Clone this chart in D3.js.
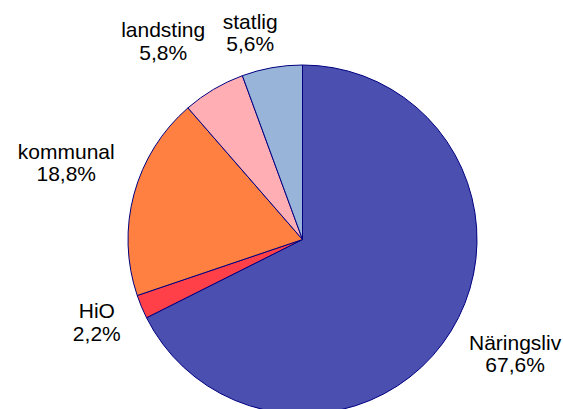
<!DOCTYPE html>
<html><head><meta charset="utf-8">
<script src="https://cdn.jsdelivr.net/npm/d3@7"></script>
<style>html,body{margin:0;padding:0;background:#fff;}svg{display:block;}</style>
</head><body>
<svg id="c" width="563" height="409"></svg>
<script>
const categories = ["Näringsliv", "HiO", "kommunal", "landsting", "statlig"];
const values = [67.6, 2.2, 18.8, 5.8, 5.6];
const valueLabels = ["67,6%", "2,2%", "18,8%", "5,8%", "5,6%"];
const colors = ["#4B4FB0", "#FF4048", "#FF8040", "#FFAFB4", "#98B4D8"];
// label layout: small angular nudges (degrees) emulating the original's collision avoidance
const labelNudgeDeg = [-1.9, -0.9, 1.3, -5.5, -4.6];

const svg = d3.select("#c");
const cx = 302.5, cy = 239.5, r = 174.5;
const g = svg.append("g").attr("transform", `translate(${cx},${cy})`);
const pie = d3.pie().sort(null).value(d => d);
const arcs = pie(values);
const arc = d3.arc().innerRadius(0).outerRadius(r);
g.selectAll("path").data(arcs).join("path")
  .attr("d", arc)
  .attr("fill", (d, i) => colors[i])
  .attr("stroke", "#000080")
  .attr("stroke-width", 1)
  .attr("stroke-linejoin", "round");

const fs = 21, lh = 22.5, gap = 19, minTop = 17.4;
const lab = svg.append("g").attr("font-family", "'Liberation Sans', Arial, sans-serif")
  .attr("font-size", fs).attr("fill", "#000");
arcs.forEach((d, i) => {
  const a = (d.startAngle + d.endAngle) / 2 + labelNudgeDeg[i] * Math.PI / 180;
  const dx = Math.sin(a), dy = -Math.cos(a);
  const t = lab.append("text").attr("text-anchor", "middle");
  t.append("tspan").attr("x", 0).attr("y", -lh / 2).text(categories[i]);
  t.append("tspan").attr("x", 0).attr("y", lh / 2).text(valueLabels[i]);
  const bb = t.node().getBBox();
  const w = bb.width, h = 2 * lh;
  let R = r + gap + Math.abs(dx) * w / 2 + Math.abs(dy) * h / 2;
  let my = cy + R * dy;
  if (my - h / 2 < minTop && dy < 0) {
    R = (minTop + h / 2 - cy) / dy;
    my = cy + R * dy;
  }
  const mx = cx + R * dx;
  t.attr("transform", `translate(${mx},${my})`);
});
</script>
</body></html>
